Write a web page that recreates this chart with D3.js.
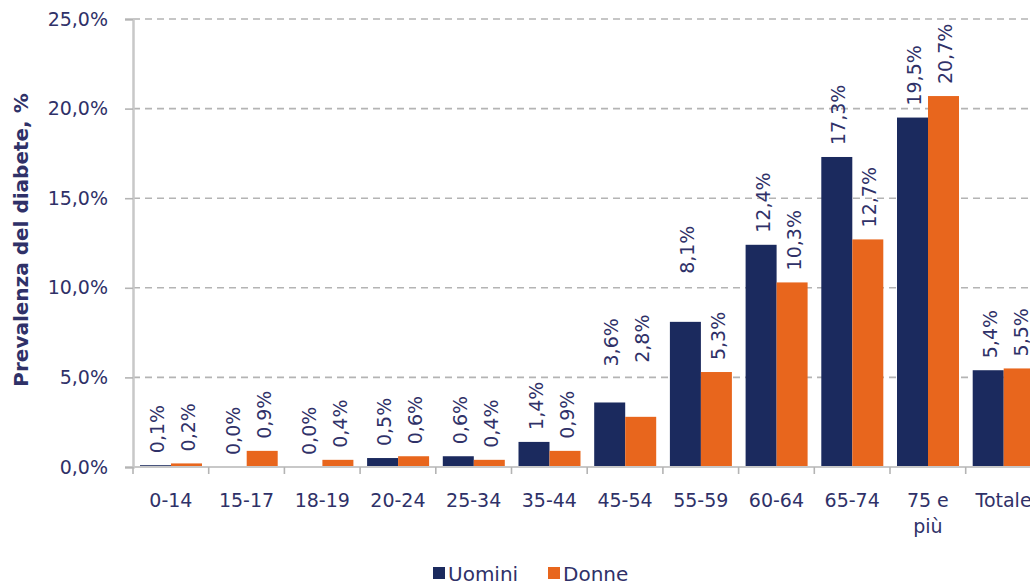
<!DOCTYPE html>
<html>
<head>
<meta charset="utf-8">
<script src="https://cdn.jsdelivr.net/npm/d3@7"></script>
<style>
  html, body { margin: 0; padding: 0; background: #fff; }
  svg { display: block; font-family: "DejaVu Sans", Verdana, sans-serif; }
</style>
</head>
<body>
<svg id="chart" width="1030" height="586"></svg>
<script>
// age groups (the last one is cut off at the right edge, as in the source)
var categories = ['0-14', '15-17', '18-19', '20-24', '25-34', '35-44', '45-54', '55-59', '60-64', '65-74', '75 e più', 'Totale'];
var seriesNames = ['Uomini', 'Donne'];
var uomini = [0.1, 0.0, 0.0, 0.5, 0.6, 1.4, 3.6, 8.1, 12.4, 17.3, 19.5, 5.4];
var donne  = [0.2, 0.9, 0.4, 0.6, 0.4, 0.9, 2.8, 5.3, 10.3, 12.7, 20.7, 5.5];
var yTicks = [0, 5, 10, 15, 20, 25];

var colors = { 'Uomini': '#1b2a5e', 'Donne': '#e8661d' };
var textColor = '#2f3168';
// labels that were dragged up by hand in the original
var labelLift = { '45-54|Uomini': 24, '45-54|Donne': 42, '55-59|Uomini': 36 };

var svg = d3.select('#chart');
var fmt = function(v) { return v.toFixed(1).replace('.', ',') + '%'; };

var step = 75.7;
var x0 = d3.scaleBand().domain(categories).range([133, 133 + step * categories.length]).padding(0);
var x1 = d3.scaleBand().domain(seriesNames).range([7, 69]).padding(0);
var y = d3.scaleLinear().domain([0, 25]).range([467, 19]);

// grid
svg.append('g').selectAll('line').data(yTicks.filter(function(t) { return t > 0; })).enter()
	.append('line')
	.attr('x1', 133).attr('x2', 1030)
	.attr('y1', function(d) { return y(d); }).attr('y2', function(d) { return y(d); })
	.attr('stroke', '#b4b4b4').attr('stroke-width', 1.6)
	.attr('stroke-dasharray', '7,5');

// y axis
var yAxis = svg.append('g').attr('transform', 'translate(133,0)')
	.call(d3.axisLeft(y).tickValues(yTicks).tickSize(8).tickPadding(17).tickFormat(fmt));
yAxis.select('.domain').attr('stroke', '#c8c8c8').attr('stroke-width', 2.5);
yAxis.selectAll('.tick line').attr('stroke', '#b4b4b4').attr('stroke-width', 1.6);
yAxis.selectAll('.tick text').attr('fill', textColor).style('font-size', '19px')
	.style('font-family', '"DejaVu Sans", Verdana, sans-serif');

// bars
var groups = svg.append('g').selectAll('g').data(categories).enter()
	.append('g')
	.attr('transform', function(c) { return 'translate(' + x0(c) + ',0)'; });

var rows = function(c, i) {
	return [{ cat: c, s: 'Uomini', v: uomini[i] }, { cat: c, s: 'Donne', v: donne[i] }];
};

groups.selectAll('rect').data(rows).enter()
	.append('rect')
	.attr('x', function(d) { return x1(d.s); })
	.attr('width', x1.bandwidth())
	.attr('y', function(d) { return y(d.v); })
	.attr('height', function(d) { return y(0) - y(d.v); })
	.attr('fill', function(d) { return colors[d.s]; });

// value labels, rotated
groups.selectAll('text').data(rows).enter()
	.append('text')
	.attr('transform', function(d) {
		var lift = labelLift[d.cat + '|' + d.s] || 0;
		var cx = x1(d.s) + x1.bandwidth() / 2 + 2;
		return 'translate(' + cx + ',' + (y(d.v) - 12 - lift) + ') rotate(-90)';
	})
	.attr('dy', '0.35em')
	.attr('fill', textColor)
	.style('font-size', '19px')
	.text(function(d) { return fmt(d.v); });

// x axis
var xAxis = svg.append('g').attr('transform', 'translate(0,' + y(0) + ')');
xAxis.append('line').attr('x1', 133).attr('x2', 1030).attr('y1', 0).attr('y2', 0)
	.attr('stroke', '#c8c8c8').attr('stroke-width', 2);
xAxis.selectAll('line.tk').data(categories).enter()
	.append('line').attr('class', 'tk')
	.attr('x1', function(c) { return x0(c); }).attr('x2', function(c) { return x0(c); })
	.attr('y1', 0).attr('y2', 7)
	.attr('stroke', '#b4b4b4').attr('stroke-width', 1.6);

xAxis.selectAll('text').data(categories).enter()
	.append('text')
	.attr('text-anchor', 'middle')
	.attr('fill', textColor)
	.style('font-size', '19px')
	.attr('transform', function(c) { return 'translate(' + (x0(c) + x0.bandwidth() / 2) + ',40)'; })
	.each(function(c) {
		var t = d3.select(this);
		var parts = c === '75 e più' ? ['75 e', 'più'] : [c];
		parts.forEach(function(p, i) {
			t.append('tspan').attr('x', 0).attr('dy', i === 0 ? 0 : 26).text(p);
		});
	});

// y title
svg.append('text')
	.attr('transform', 'translate(21,240) rotate(-90)')
	.attr('text-anchor', 'middle')
	.attr('dy', '0.35em')
	.attr('fill', textColor)
	.style('font-size', '20px')
	.style('font-weight', 'bold')
	.text('Prevalenza del diabete, %');

// legend
var legend = svg.append('g').attr('transform', 'translate(433,567)');
var li = legend.selectAll('g').data(seriesNames).enter()
	.append('g')
	.attr('transform', function(d, i) { return 'translate(' + (i * 115) + ',0)'; });
li.append('rect').attr('width', 12).attr('height', 12).attr('fill', function(d) { return colors[d]; });
li.append('text').attr('x', 15).attr('y', 14).attr('fill', textColor).style('font-size', '20px')
	.text(function(d) { return d; });
</script>
</body>
</html>
